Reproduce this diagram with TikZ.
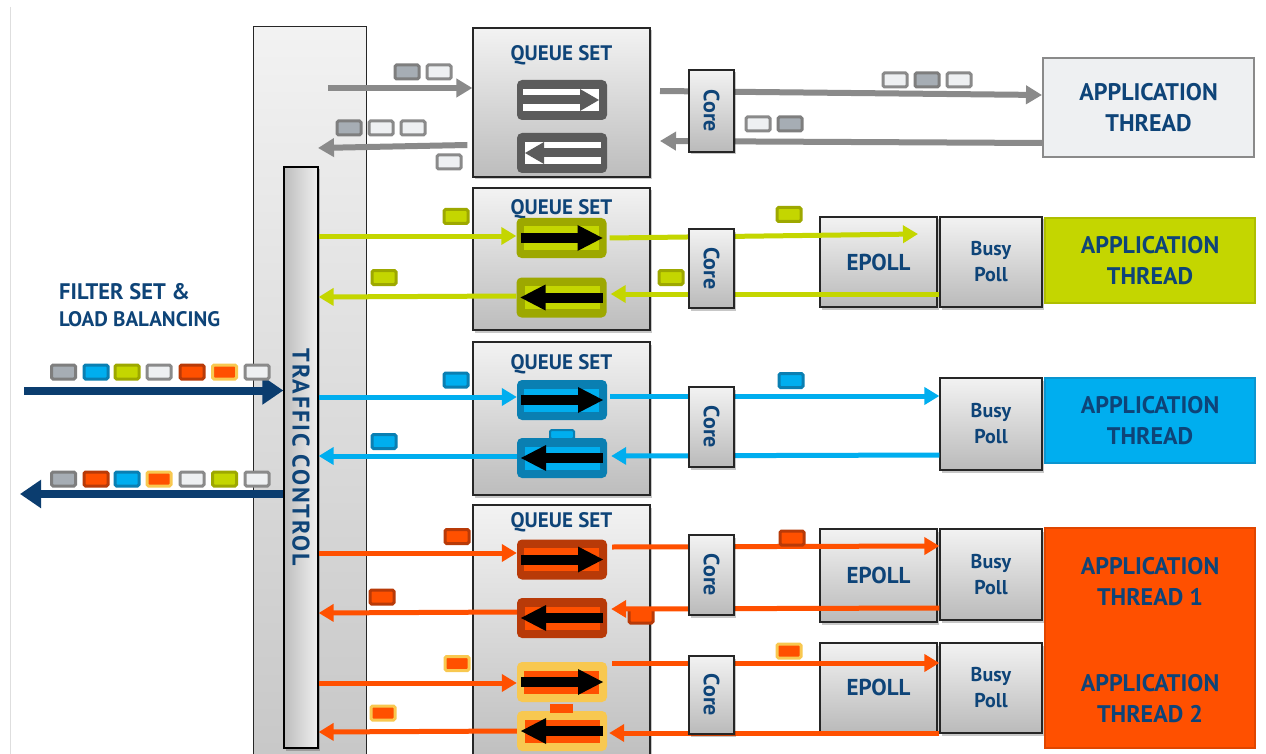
\documentclass[tikz,border=0pt]{standalone}
\usepackage{fontspec}
\setmainfont{PT Sans}
\usetikzlibrary{arrows.meta,shadows}
\definecolor{txtblue}{HTML}{0E4478}
\definecolor{navy}{HTML}{0B3D6F}
\definecolor{agray}{HTML}{8A8A8A}
\definecolor{pkborder}{HTML}{7E7E7E}
\definecolor{lime}{HTML}{C4D600}
\definecolor{limedk}{HTML}{9DA800}
\definecolor{sky}{HTML}{00AEEF}
\definecolor{skydk}{HTML}{0A7FB2}
\definecolor{orng}{HTML}{FF5000}
\definecolor{orngdk}{HTML}{B83A08}
\definecolor{yel}{HTML}{F8C850}
\definecolor{pale}{HTML}{EEF0F2}
\definecolor{bgray}{HTML}{A6ADB4}
\definecolor{dkicon}{HTML}{5B5B5B}
\definecolor{limebd}{HTML}{AEBE00}
\definecolor{skybd}{HTML}{0B95CF}
\definecolor{orngbd}{HTML}{E04600}

\newcommand\qiconC[6]{%
\begin{scope}[shift={(#2,#3)},xscale=#4]
\node[qicon, fill=#5] (#1) at (0,0) {};
\fill[#6] (-38,-11.5) rectangle (37,11.5);
\fill[black] (-41,-5) rectangle (18,5);
\fill[black] (16,-13) -- (41,0) -- (16,13) -- cycle;
\end{scope}}
\newcommand\qiconG[4]{%
\begin{scope}[shift={(#2,#3)},xscale=#4]
\node[qicon, fill=dkicon] (#1) at (0,0) {};
\fill[white] (-39,-11) rectangle (37,11);
\fill[dkicon] (-39,-4.5) rectangle (20,4.5);
\fill[dkicon] (18,-11) -- (37,0) -- (18,11) -- cycle;
\end{scope}}

\begin{document}
\begin{tikzpicture}[x=1pt,y=-1pt,
  shadowed/.style={drop shadow={opacity=.22, shadow xshift=2pt, shadow yshift=-2.5pt, fill=black}},
  colbox/.style={draw=black!85, line width=1pt, top color=black!5, bottom color=black!22, inner sep=0pt},
  tcbox/.style={draw=black, line width=1.3pt, left color=black!26, right color=black!6, inner sep=0pt, shadowed},
  qsbox/.style={draw=black!85, line width=1.3pt, top color=black!5, bottom color=black!26, inner sep=0pt, shadowed},
  pbox/.style={draw=black!85, line width=1.3pt, top color=black!5, bottom color=black!27, inner sep=0pt, shadowed},
  qicon/.style={minimum width=90pt, minimum height=40pt, rounded corners=5pt, inner sep=0pt},
  lbl/.style={text=txtblue, font=\fontsize{#1}{#1}\selectfont\bfseries, inner sep=0pt},
  bplbl/.style={text=txtblue, font=\fontsize{20}{26}\selectfont\bfseries, align=center},
  applbl/.style={text=txtblue, font=\fontsize{24}{31}\selectfont\bfseries, align=center, inner sep=0pt},
  pk/.style={inner sep=0pt, minimum width=24pt, minimum height=14pt, line width=3pt, rounded corners=1.5pt},
  pkgray/.style={pk, fill=bgray, draw=pkborder},
  pklight/.style={pk, fill=pale, draw=agray},
  pklime/.style={pk, fill=lime, draw=limedk},
  pkblue/.style={pk, fill=sky, draw=skydk},
  pkorng/.style={pk, fill=orng, draw=orngdk},
  pkyel/.style={pk, fill=orng, draw=yel},
  garrow/.style={draw=agray, line width=6pt, -{Triangle[length=16pt,width=18pt]}},
  larrow/.style={draw=lime, line width=5pt, -{Triangle[length=15pt,width=17pt]}},
  barrow/.style={draw=sky, line width=5pt, -{Triangle[length=15pt,width=17pt]}},
  oarrow/.style={draw=orng, line width=5pt, -{Triangle[length=15pt,width=17pt]}},
  narrow/.style={draw=navy, line width=8pt, -{Triangle[length=21pt,width=27pt]}}
]
\useasboundingbox (0,0) rectangle (1266,754);
\fill[white] (0,0) rectangle (1266,754);
\draw[black!13, line width=1pt] (10,7) -- (10,754);

% columns
\node[colbox, minimum width=113pt, minimum height=743pt] (outer) at (309.5,398.5) {};
\node[tcbox, minimum width=34pt, minimum height=581pt] (tc) at (301,457.5) {};
\node[text=txtblue, inner sep=0pt, font=\fontsize{24}{24}\selectfont\bfseries\addfontfeatures{LetterSpace=8}, rotate=-90] (tct) at (tc.center) {TRAFFIC CONTROL};

% queue sets
\node[qsbox, minimum width=177pt, minimum height=149pt] (qs1) at (561.5,102.5) {};
\node[qsbox, minimum width=177pt, minimum height=142pt] (qs2) at (561.5,259) {};
\node[qsbox, minimum width=177pt, minimum height=153pt] (qs3) at (561.5,418.5) {};
\node[qsbox, minimum width=177pt, minimum height=265pt] (qs4) at (561.5,637.5) {};
\node[lbl=21] (qs1t) at (561.5,55) {QUEUE SET};
\node[lbl=21] (qs2t) at (561.5,209) {QUEUE SET};
\node[lbl=21] (qs3t) at (561.5,364) {QUEUE SET};
\node[lbl=21] (qs4t) at (561.5,522) {QUEUE SET};

% epoll / busy poll
\node[pbox, minimum width=117pt, minimum height=90pt] (e2) at (878.5,262) {};
\node[pbox, minimum width=117pt, minimum height=93pt] (e4) at (878.5,575.5) {};
\node[pbox, minimum width=117pt, minimum height=89pt] (e5) at (878.5,687.5) {};
\node[lbl=23] (e2t) at (e2) {EPOLL};
\node[lbl=23] (e4t) at (e4) {EPOLL};
\node[lbl=23] (e5t) at (e5) {EPOLL};
\node[pbox, minimum width=102pt, minimum height=90pt, bplbl] (b2) at (991,262) {Busy\\Poll};
\node[pbox, minimum width=102pt, minimum height=92pt, bplbl] (b3) at (991,424) {Busy\\Poll};
\node[pbox, minimum width=102pt, minimum height=91pt, bplbl] (b4) at (991,574.5) {Busy\\Poll};
\node[pbox, minimum width=102pt, minimum height=90pt, bplbl] (b5) at (991,688) {Busy\\Poll};

% application threads
\node[applbl, fill=pale, draw=agray, line width=2pt, minimum width=211pt, minimum height=99pt] (app1) at (1148.5,107.5) {APPLICATION\\THREAD};
\node[applbl, fill=lime, draw=limebd, line width=2pt, minimum width=210pt, minimum height=85pt] (app2) at (1150,260.5) {APPLICATION\\THREAD};
\node[applbl, fill=sky, draw=skybd, line width=2pt, minimum width=210pt, minimum height=85pt] (app3) at (1150,420.5) {APPLICATION\\THREAD};
\node[applbl, fill=orng, draw=orngbd, line width=2pt, minimum width=210pt, minimum height=220pt] (app4) at (1150,638) {};
\node[applbl] (app4a) at (1150,582) {APPLICATION\\THREAD 1};
\node[applbl] (app4b) at (1150,699) {APPLICATION\\THREAD 2};

% queue icons
\qiconG{q1a}{562}{100}{1}
\qiconG{q1b}{562}{153}{-1}
\qiconC{q2a}{561.5}{238}{1}{limedk}{lime}
\qiconC{q2b}{561.5}{297.5}{-1}{limedk}{lime}
\qiconC{q3a}{562}{400}{1}{skydk}{sky}
\node[pk, fill=sky, draw=skydk, minimum width=24pt, minimum height=9pt, line width=2pt] (q3tab) at (562,434.5) {};
\qiconC{q3b}{562}{458}{-1}{skydk}{sky}
\qiconC{q4a}{562}{559.5}{1}{orngdk}{orng}
\qiconC{q4b}{562}{618}{-1}{orngdk}{orng}
\qiconC{q5a}{562}{682}{1}{yel}{orng}
\qiconC{q5b}{562}{731}{-1}{yel}{orng}
\node[inner sep=0pt, fill=orng, minimum width=23pt, minimum height=9pt] (q5tab) at (561.5,708.5) {};

\node[pkorng] (p4r) at (641,616) {};

% gray arrows row 1
\coordinate (g1s) at (328,88);
\coordinate (g2s) at (660,91);
\coordinate (g3e) at (660,141);
\coordinate (g4e) at (318,148);
\draw[garrow] (g1s) -- (qs1.west |- 0,88);
\draw[garrow] (g2s) -- (app1.west |- 0,95);
\draw[garrow] (app1.west |- 0,143) -- (g3e);
\draw[garrow] ([xshift=-5pt]qs1.west |- 0,145) -- (g4e);

% lime row 2
\coordinate (e2tip) at (918,234);
\draw[larrow] (tc.east |- 0,236) -- (q2a.west |- 0,236);
\draw[larrow] ([xshift=3pt]q2a.east |- 0,238) -- (e2tip);
\draw[larrow] (b2.west |- 0,294) -- ([xshift=4pt]q2b.east |- 0,294);
\draw[larrow] (q2b.west |- 0,296) -- (tc.east |- 0,297);

% blue row 3
\draw[barrow] (tc.east |- 0,397) -- (q3a.west |- 0,397);
\draw[barrow] ([xshift=3pt]q3a.east |- 0,396) -- (b3.west |- 0,396);
\draw[barrow] (b3.west |- 0,455) -- ([xshift=4pt]q3b.east |- 0,456);
\draw[barrow] (q3b.west |- 0,456) -- (tc.east |- 0,456);

% orange rows 4-5
\draw[oarrow] (tc.east |- 0,553) -- (q4a.west |- 0,553);
\draw[oarrow] ([xshift=5pt]q4a.east |- 0,547) -- (b4.west |- 0,546);
\draw[oarrow] (b4.west |- 0,608) -- ([xshift=4pt]q4b.east |- 0,609);
\draw[oarrow] (q4b.west |- 0,612) -- (tc.east |- 0,613);
\draw[oarrow] (tc.east |- 0,683) -- (q5a.west |- 0,683);
\draw[oarrow] ([xshift=5pt]q5a.east |- 0,663) -- (b5.west |- 0,663);
\draw[oarrow] (b5.west |- 0,733) -- ([xshift=2pt]q5b.east |- 0,733);
\draw[oarrow] (q5b.west |- 0,731) -- (tc.east |- 0,732);

% navy in/out
\coordinate (nin) at (24,390.5);
\coordinate (nout) at (20,494);
\draw[narrow] (nin) -- (tc.west |- 0,390.5);
\draw[narrow] (tc.west |- 0,494) -- (nout);

% core boxes
\node[pbox, minimum width=45pt, minimum height=82pt] (c1) at (711.5,111) {};
\node[pbox, minimum width=45pt, minimum height=79pt] (c2) at (711.5,268.5) {};
\node[pbox, minimum width=45pt, minimum height=80pt] (c3) at (711.5,427) {};
\node[pbox, minimum width=45pt, minimum height=80pt] (c4) at (711.5,575) {};
\node[pbox, minimum width=45pt, minimum height=78pt] (c5) at (711.5,695) {};
\node[lbl=22, rotate=-90] (c1t) at (c1) {Core};
\node[lbl=22, rotate=-90] (c2t) at (c2) {Core};
\node[lbl=22, rotate=-90] (c3t) at (c3) {Core};
\node[lbl=22, rotate=-90] (c4t) at (c4) {Core};
\node[lbl=22, rotate=-90] (c5t) at (c5) {Core};

% filter set label
\node[lbl=22.5, anchor=base west] (fs1) at (59,299) {FILTER SET \&};
\node[lbl=21, anchor=base west] (fs2) at (59,326) {LOAD BALANCING};

% packets row 1
\node[pkgray] (p1a) at (407,72) {};
\node[pklight] (p1b) at (439,72) {};
\node[pklight] (p1c) at (895,80) {};
\node[pkgray] (p1d) at (927,80) {};
\node[pklight] (p1e) at (959,80) {};
\node[pklight] (p1f) at (758,124) {};
\node[pkgray] (p1g) at (790,124) {};
\node[pkgray] (p1h) at (349,128) {};
\node[pklight] (p1i) at (381,128) {};
\node[pklight] (p1j) at (413,128) {};
\node[pklight] (p1k) at (449,162) {};
% row 2
\node[pklime] (p2a) at (456,216.5) {};
\node[pklime] (p2b) at (789,214.5) {};
\node[pklime] (p2c) at (671,277.5) {};
\node[pklime] (p2d) at (384,277.5) {};
% row 3
\node[pkblue] (p3a) at (456,380) {};
\node[pkblue] (p3b) at (791,380.5) {};
\node[pkblue] (p3c) at (384,441.5) {};
% row 4-5
\node[pkorng] (p4a) at (457,536.5) {};
\node[pkorng] (p4b) at (792,538) {};
\node[pkorng] (p4c) at (382,597) {};
\node[pkyel] (p5a) at (457,663.5) {};
\node[pkyel] (p5b) at (789,651) {};
\node[pkyel] (p5c) at (383,713) {};

% incoming packets
\node[pkgray] (i1) at (63.5,372) {};
\node[pkblue] (i2) at (96,372) {};
\node[pklime] (i3) at (127,372) {};
\node[pklight] (i4) at (159,372) {};
\node[pkorng] (i5) at (192,372) {};
\node[pkyel] (i6) at (224.5,372) {};
\node[pklight] (i7) at (257,372) {};
% outgoing packets
\node[pkgray] (o1) at (63.5,479) {};
\node[pkorng] (o2) at (96,479) {};
\node[pkblue] (o3) at (127,479) {};
\node[pkyel] (o4) at (159,479) {};
\node[pklight] (o5) at (192,479) {};
\node[pklime] (o6) at (224.5,479) {};
\node[pklight] (o7) at (257,479) {};
\end{tikzpicture}
\end{document}
